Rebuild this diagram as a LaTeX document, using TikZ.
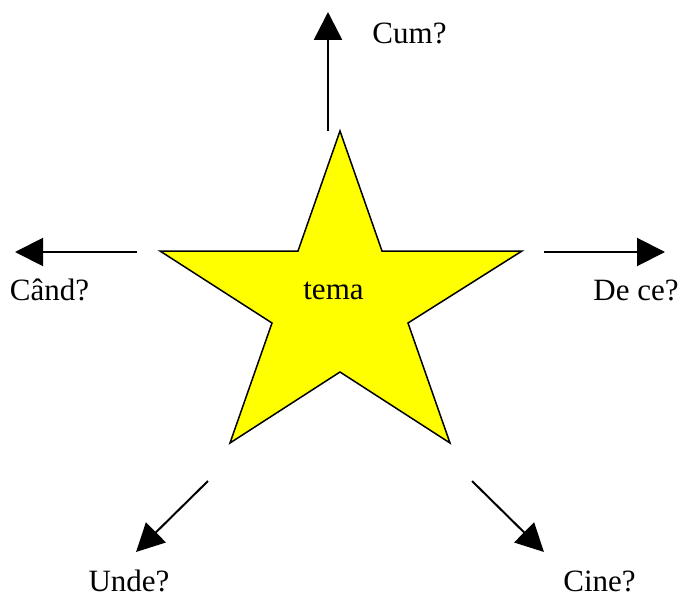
\documentclass[tikz,border=0pt]{standalone}
\usepackage{fontspec}
\setmainfont{Liberation Serif}
\usetikzlibrary{arrows.meta}
\definecolor{staryellow}{RGB}{255,255,0}
\tikzset{
  lbl/.style={anchor=base, inner sep=0pt, font=\fontsize{31}{36}\selectfont},
  arr/.style={-{Triangle[length=28pt,width=28pt]}, line width=2pt},
  starfill/.style={fill=staryellow, draw=black, line width=1.5pt, line join=miter}
}
\begin{document}
\begin{tikzpicture}[x=1pt,y=-1pt]
\useasboundingbox (0,0) rectangle (680,596);
% star
\draw[starfill] (340,131) -- (382,251) -- (522,251) -- (408,323) -- (450,443)
  -- (340,372) -- (230,443) -- (272,323) -- (160,251) -- (298,251) -- cycle;
\node[lbl] (tema) at (333.5,299) {tema};
% arrow endpoints
\coordinate (upS) at (328,131);
\coordinate (upE) at (328,12);
\coordinate (lS) at (137,252);
\coordinate (lE) at (15,252);
\coordinate (rS) at (544,252);
\coordinate (rE) at (665,252);
\coordinate (blS) at (208,481);
\coordinate (blE) at (136,552);
\coordinate (brS) at (472,481);
\coordinate (brE) at (544,552);
\draw[arr, line width=2.5pt] (upS) -- (upE);
\draw[arr] (lS) -- (lE);
\draw[arr] (rS) -- (rE);
\draw[arr] (blS) -- (blE);
\draw[arr] (brS) -- (brE);
% labels
\node[lbl] (cum) at (409.5,44) {Cum?};
\node[lbl] (cand) at (49.5,300) {Când?};
\node[lbl] (dece) at (636,300) {De ce?};
\node[lbl] (unde) at (129,591) {Unde?};
\node[lbl] (cine) at (599.5,591) {Cine?};
\end{tikzpicture}
\end{document}
